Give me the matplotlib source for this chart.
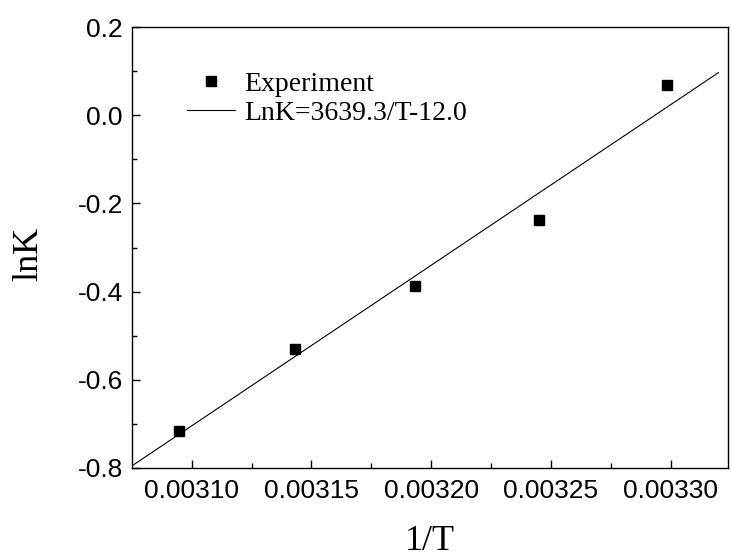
import numpy as np
import matplotlib
matplotlib.use("Agg")
import matplotlib.pyplot as plt

# data
inv_T = [0.0030945, 0.0031432, 0.0031934, 0.0032452, 0.0032987]
lnK = [-0.716, -0.530, -0.387, -0.237, 0.068]

# fitted line  lnK = slope/T + intercept
slope = 3639.3
intercept = -11.986
fit_x = [0.003075, 0.00332]

serif = "Liberation Serif"
sans = "Liberation Sans"

fig = plt.figure(figsize=(7.32, 5.57), dpi=100)
ax = fig.add_axes([0.1803, 0.1598, 0.8142, 0.7917])

ax.plot(inv_T, lnK, ls="none", marker="s", ms=7, color="black", label="Experiment")
fx = np.array(fit_x)
ax.plot(fx, slope * fx + intercept, color="black", lw=0.8,
        label="LnK=%.1f/T%.1f" % (slope, intercept))

ax.set_xlim(0.003075, 0.003324)
ax.set_ylim(-0.8, 0.2)
ax.set_xticks([0.00310, 0.00315, 0.00320, 0.00325, 0.00330])
ax.set_xticks([0.003125, 0.003175, 0.003225, 0.003275], minor=True)
ax.set_xticklabels(["0.00310", "0.00315", "0.00320", "0.00325", "0.00330"])
ax.set_yticks([0.2, 0.0, -0.2, -0.4, -0.6, -0.8])
ax.set_yticks([0.1, -0.1, -0.3, -0.5, -0.7], minor=True)
ax.set_yticklabels(["0.2", "0.0", "-0.2", "-0.4", "-0.6", "-0.8"])

ax.tick_params(which="both", direction="in", top=False, right=False, width=1)
ax.tick_params(which="major", length=6, pad=8)
ax.tick_params(which="minor", length=3.5)
for lab in ax.get_xticklabels() + ax.get_yticklabels():
    lab.set_fontfamily(sans)
    lab.set_fontsize(19)
ax.tick_params(axis="y", pad=6.5)

for sp in ax.spines.values():
    sp.set_linewidth(1.0)

ax.set_xlabel("1/T", fontfamily=serif, fontsize=26)
ax.set_ylabel("lnK", fontfamily=serif, fontsize=26)
ax.xaxis.set_label_coords(0.5, -0.13)
ax.yaxis.set_label_coords(-0.146, 0.485)

ax.legend(loc="upper left", bbox_to_anchor=(0.092, 0.90), frameon=False,
          prop={"family": serif, "size": 20}, handlelength=1.75,
          handletextpad=0.3, labelspacing=0.15, borderpad=0, borderaxespad=0,
          numpoints=1)

fig.savefig("out.png", dpi=100)
